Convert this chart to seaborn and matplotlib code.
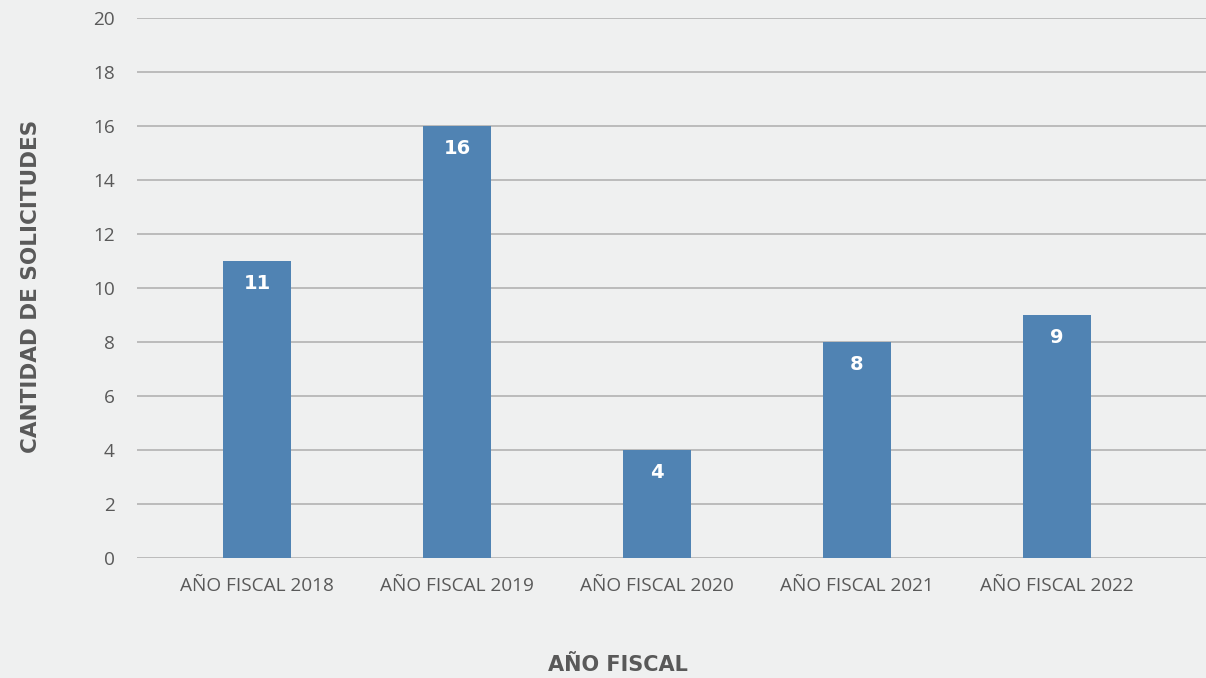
import matplotlib
matplotlib.use('Agg')
import matplotlib.pyplot as plt
import seaborn as sns
import pandas as pd

# data
categorias = ["AÑO FISCAL 2018", "AÑO FISCAL 2019", "AÑO FISCAL 2020",
              "AÑO FISCAL 2021", "AÑO FISCAL 2022"]
solicitudes = [11, 16, 4, 8, 9]
y_ticks = [0, 2, 4, 6, 8, 10, 12, 14, 16, 18, 20]

BG = "#EFF0F0"
BAR = "#5083B3"
TXT = "#595959"

sns.set_theme(style="whitegrid")
plt.rcParams['font.family'] = ['Open Sans', 'DejaVu Sans']

df = pd.DataFrame({"anio": categorias, "cantidad": solicitudes})

fig = plt.figure(figsize=(12.06, 6.78), dpi=100, facecolor=BG)
ax = fig.add_axes([137 / 1206, 1 - 558 / 678, (1206 - 137) / 1206, (558 - 18) / 678])
ax.set_facecolor(BG)

sns.barplot(data=df, x="anio", y="cantidad", color=BAR, width=0.34,
            saturation=1, linewidth=0, ax=ax, zorder=3)

ax.set_ylim(0, 20)
ax.set_xlim(-0.6, 4.745)
ax.set_yticks(y_ticks)
ax.grid(axis='y', color="#ADADAD", linewidth=1.1, zorder=0)
ax.grid(axis='x', visible=False)
for s in ax.spines.values():
    s.set_visible(False)
ax.tick_params(axis='both', length=0, labelsize=13.7, labelcolor=TXT)
ax.tick_params(axis='y', pad=16)
ax.tick_params(axis='x', pad=14)

# white value labels just inside the top of each bar
for c in ax.containers:
    ax.bar_label(c, labels=[str(v) for v in solicitudes], label_type='edge',
                 padding=-23, color="white", fontsize=14, fontweight='bold',
                 family=['DejaVu Sans'])

fig.text(618 / 1206, 1 - 665 / 678, "AÑO FISCAL", ha='center', va='center',
         fontsize=15, fontweight='bold', color=TXT, family=['DejaVu Sans'])
fig.text(31 / 1206, 1 - 286 / 678, "CANTIDAD DE SOLICITUDES", rotation=90,
         ha='center', va='center', fontsize=15.5, fontweight='bold', color=TXT,
         family=['DejaVu Sans'])
ax.set_xlabel("")
ax.set_ylabel("")

fig.savefig("out.png", dpi=100, facecolor=BG)
